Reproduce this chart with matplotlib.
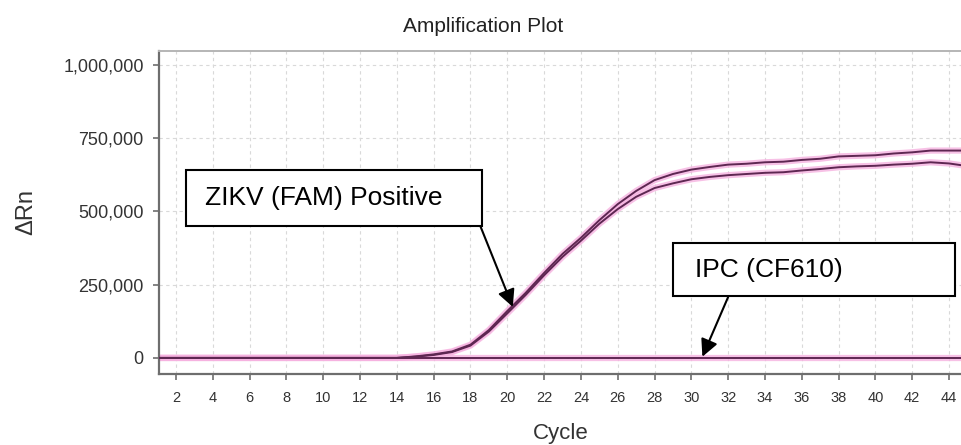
import matplotlib
matplotlib.use("Agg")
import matplotlib.pyplot as plt
from matplotlib.ticker import FuncFormatter
from matplotlib.patches import Rectangle

plt.rcParams['font.family'] = ['Liberation Sans', 'DejaVu Sans']

# 数据
cycles = list(range(1, 46))
zikv_high = [0]*14 + [5000, 12000, 22000, 45000, 95000, 160000, 222000, 290000,
             355000, 410000, 470000, 525000, 570000, 607000, 628000, 643000,
             652000, 660000, 663000, 668000, 670000, 676000, 680000, 688000,
             690000, 692000, 698000, 702000, 708000, 708000, 708000]
zikv_low = [0]*14 + [4000, 10000, 20000, 42000, 90000, 152000, 215000, 282000,
            345000, 400000, 458000, 508000, 550000, 580000, 596000, 610000,
            618000, 624000, 628000, 632000, 634000, 640000, 645000, 651000,
            654000, 656000, 660000, 663000, 668000, 664000, 655000]
ipc = [0]*45
x_ticks = list(range(2, 46, 2))
y_ticks = [0, 250000, 500000, 750000, 1000000]

W, H = 961, 445
fig = plt.figure(figsize=(W/100, H/100), dpi=100)
ax = fig.add_axes([159/W, (H-374)/H, (W-159)/W, (374-51)/H])

glow = '#f6b2e0'
core = '#5e2752'
for s in (ipc, zikv_low, zikv_high):
    ax.plot(cycles, s, color=glow, lw=4.5, alpha=0.8, solid_capstyle='butt', zorder=2)
for s in (ipc, zikv_low, zikv_high):
    ax.plot(cycles, s, color=core, lw=1.4, zorder=3)

ax.set_xlim(1.08, 44.65)
ax.set_ylim(-55000, 1048000)
ax.set_xticks(x_ticks)
ax.set_yticks(y_ticks)
ax.yaxis.set_major_formatter(FuncFormatter(lambda v, p: format(int(v), ',')))
ax.grid(True, color='#d9d9d9', lw=0.8, ls=(0, (3, 3)))
ax.set_axisbelow(True)

for k in ('left', 'bottom'):
    ax.spines[k].set_color('#6e6e6e')
    ax.spines[k].set_linewidth(1.6)
ax.spines['top'].set_color('#b5b5b5')
ax.spines['top'].set_linewidth(1.4)
ax.spines['right'].set_visible(False)

ax.tick_params(axis='y', direction='out', length=4, width=1.2, color='#6e6e6e',
               labelsize=13, labelcolor='#333333', pad=7)
ax.tick_params(axis='x', direction='out', length=4, width=1.2, color='#6e6e6e',
               labelsize=10.5, labelcolor='#333333', pad=8)

fig.text(483/W, 1-27/H, 'Amplification Plot', ha='center', va='center',
         fontsize=15, color='#222222')
fig.text(561/W, 1-433/H, 'Cycle', ha='center', va='center', fontsize=16, color='#333333')
fig.text(26/W, 1-212/H, 'ΔRn', ha='center', va='center', rotation=90,
         fontsize=17, color='#333333')

# 标注框
boxes = [((186, 170, 482, 226), 'ZIKV (FAM) Positive', 205, 198),
         ((673, 243, 955, 296), 'IPC (CF610)', 695, 270)]
for (x0, y0, x1, y1), label, tx, ty in boxes:
    fig.patches.append(Rectangle((x0/W, 1-y1/H), (x1-x0)/W, (y1-y0)/H,
                                 transform=fig.transFigure, fc='white', ec='black',
                                 lw=1.5, zorder=5))
    fig.text(tx/W, 1-ty/H, label, ha='left', va='center', fontsize=19,
             color='black', zorder=6)

arrow = dict(arrowstyle='-|>', color='black', lw=1.5, mutation_scale=26, shrinkA=0, shrinkB=0)
ax.annotate('', xy=(20.3, 174000), xytext=(18.5, 456000), arrowprops=arrow, zorder=6)
ax.annotate('', xy=(30.6, 4000), xytext=(32.0, 208000), arrowprops=arrow, zorder=6)

fig.savefig('out.png', dpi=100)
